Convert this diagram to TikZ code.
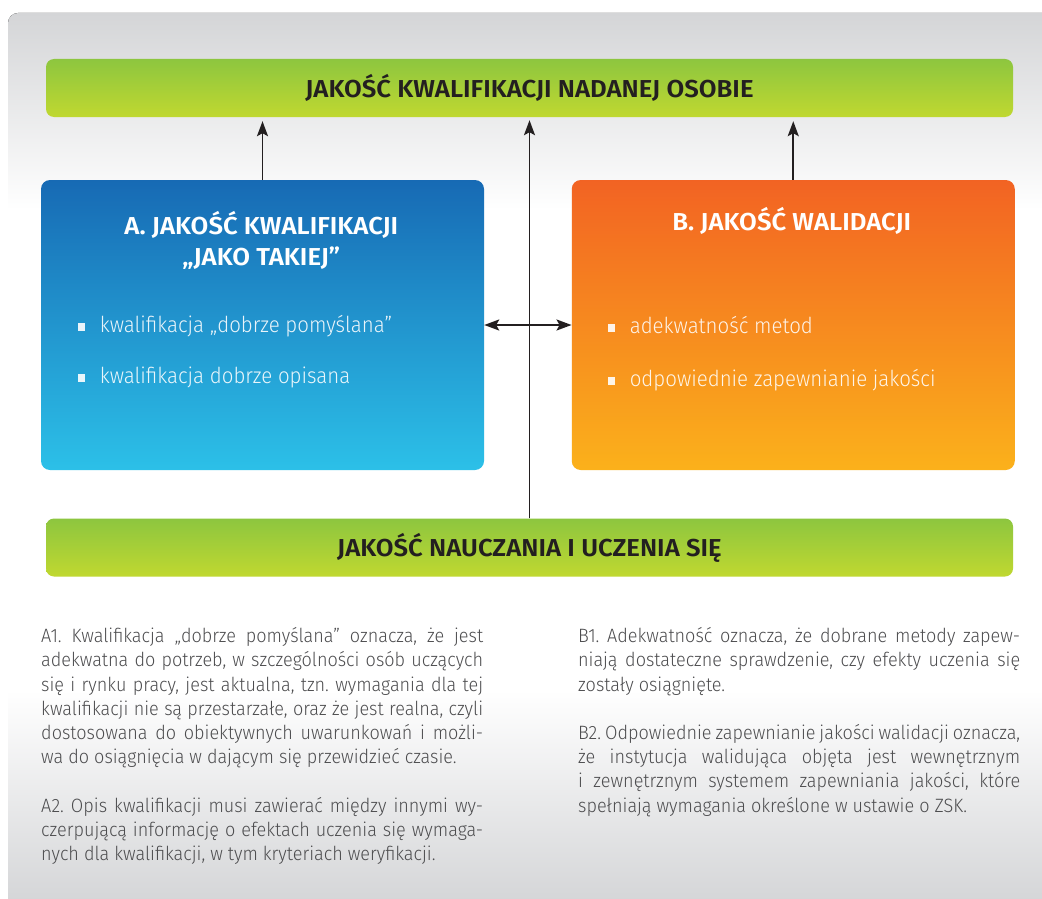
\documentclass[tikz,border=0pt]{standalone}
\usepackage{fontspec}
\setmainfont{PT Sans}
\newfontfamily\boldfont[FakeStretch=1.05]{Fira Sans SemiBold}
\newfontfamily\lightfont[FakeStretch=0.935]{Fira Sans Light}
\newfontfamily\itemfont[FakeStretch=0.93]{Fira Sans Light}
\usetikzlibrary{arrows.meta,positioning}

\definecolor{greentop}{RGB}{141,198,63}
\definecolor{greenbot}{RGB}{192,216,48}
\definecolor{bluetop}{RGB}{23,106,180}
\definecolor{bluebot}{RGB}{44,192,232}
\definecolor{orangetop}{RGB}{242,99,35}
\definecolor{orangebot}{RGB}{251,177,27}
\definecolor{panelgrey}{RGB}{212,213,215}
\definecolor{bodygrey}{RGB}{77,77,79}
\definecolor{arrowblack}{RGB}{35,31,32}

\newcommand{\jl}[1]{\makebox[442pt][s]{#1}}
\newcommand{\sqbullet}{\raisebox{1.5pt}{\rule{7.7pt}{7.7pt}}\hspace{14.6pt}}
\frenchspacing

\begin{document}
\begin{tikzpicture}[x=1pt,y=-1pt,>={Stealth[length=15pt,width=11pt,inset=3pt]}]
  \tikzstyle{bar}=[rounded corners=8pt,top color=greentop,bottom color=greenbot,
                   minimum width=967pt,minimum height=58pt,inner sep=0pt,
                   text height=19pt,text depth=0pt,text=arrowblack,
                   font=\boldfont\fontsize{24.5}{24.5}\selectfont]
  \tikzstyle{box}=[rounded corners=9pt,minimum width=443pt,minimum height=290pt,
                   inner sep=0pt]
  \tikzstyle{title}=[font=\boldfont\fontsize{24.5}{31.4}\selectfont,text=white,
                     align=center,anchor=base,inner sep=0pt]
  \tikzstyle{item}=[font=\itemfont\fontsize{22}{22}\selectfont,text=white,
                    text opacity=0.9,anchor=base west,inner sep=0pt]
  \tikzstyle{para}=[font=\lightfont\fontsize{19.3}{24.2}\selectfont,text=bodygrey,
                    align=left,anchor=base west,inner sep=0pt]
  \tikzstyle{link}=[->,line width=1.9pt,draw=arrowblack,fill=arrowblack]

  \useasboundingbox (0,0) rectangle (1042,899);
  \clip (0,0) rectangle (1042,899);

  % background panel
  \fill[top color=panelgrey,bottom color=white]
    (8,210) [rounded corners=10pt] -- (8,13) [sharp corners] -- (1050,13) -- (1050,210) -- cycle;
  \fill[white] (8,209) rectangle (1050,691);
  \fill[top color=white,bottom color=panelgrey] (8,690) rectangle (1050,905);

  % the four blocks
  \node[bar] (quality) at (529.5,88) {JAKOŚĆ KWALIFIKACJI NADANEJ OSOBIE};
  \node[bar,text height=17.6pt] (teaching) at (529.5,547.5) {JAKOŚĆ NAUCZANIA I UCZENIA SIĘ};
  \node[box,top color=bluetop,bottom color=bluebot] (qualif) at (262.5,325) {};
  \node[box,top color=orangetop,bottom color=orangebot] (valid) at (793.25,325) {};

  \node[title] (qualif title) at (261.3,265.7) {A. JAKOŚĆ KWALIFIKACJI\\„JAKO TAKIEJ”};
  \node[title] (valid title) at (791.7,230) {B. JAKOŚĆ WALIDACJI};

  \node[item] (qualif one) at (77.3,332.3) {\sqbullet kwalifikacja „dobrze pomyślana”};
  \node[item] (qualif two) at (77.3,383.3) {\sqbullet kwalifikacja dobrze opisana};
  \node[item] (valid one) at (607.3,333.3) {\sqbullet adekwatność metod};
  \node[item] (valid two) at (607.3,386) {\sqbullet odpowiednie zapewnianie jakości};

  % arrows
  \draw[link,shorten >=4pt] (qualif.north) -- (qualif.north |- quality.south);
  \draw[link,shorten >=4pt] (valid.north) -- (valid.north |- quality.south);
  \draw[link,shorten >=3pt] (teaching.north) -- (quality.south);
  \draw[link,<->] (qualif.east) -- (valid.west);

  % notes below
  \node[para] (note a1) at (41,763.7) {%
    \jl{A1. Kwalifikacja „dobrze pomyślana” oznacza, że jest}\\
    \jl{adekwatna do potrzeb, w szczególności osób uczących}\\
    \jl{się i rynku pracy, jest aktualna, tzn. wymagania dla tej}\\
    \jl{kwalifikacji nie są przestarzałe, oraz że jest realna, czyli}\\
    \jl{dostosowana do obiektywnych uwarunkowań i możli-}\\
    wa do osiągnięcia w dającym się przewidzieć czasie.};
  \node[para] (note a2) at (41,860.8) {%
    \jl{A2. Opis kwalifikacji musi zawierać między innymi wy-}\\
    \jl{czerpującą informację o efektach uczenia się wymaga-}\\
    nych dla kwalifikacji, w tym kryteriach weryfikacji.};
  \node[para] (note b1) at (578,691) {%
    \jl{B1. Adekwatność oznacza, że dobrane metody zapew-}\\
    \jl{niają dostateczne sprawdzenie, czy efekty uczenia się}\\
    zostały osiągnięte.};
  \node[para] (note b2) at (578,812) {%
    \jl{B2. Odpowiednie zapewnianie jakości walidacji oznacza,}\\
    \jl{że instytucja walidująca objęta jest wewnętrznym}\\
    \jl{i zewnętrznym systemem zapewniania jakości, które}\\
    spełniają wymagania określone w ustawie o ZSK.};
\end{tikzpicture}
\end{document}
